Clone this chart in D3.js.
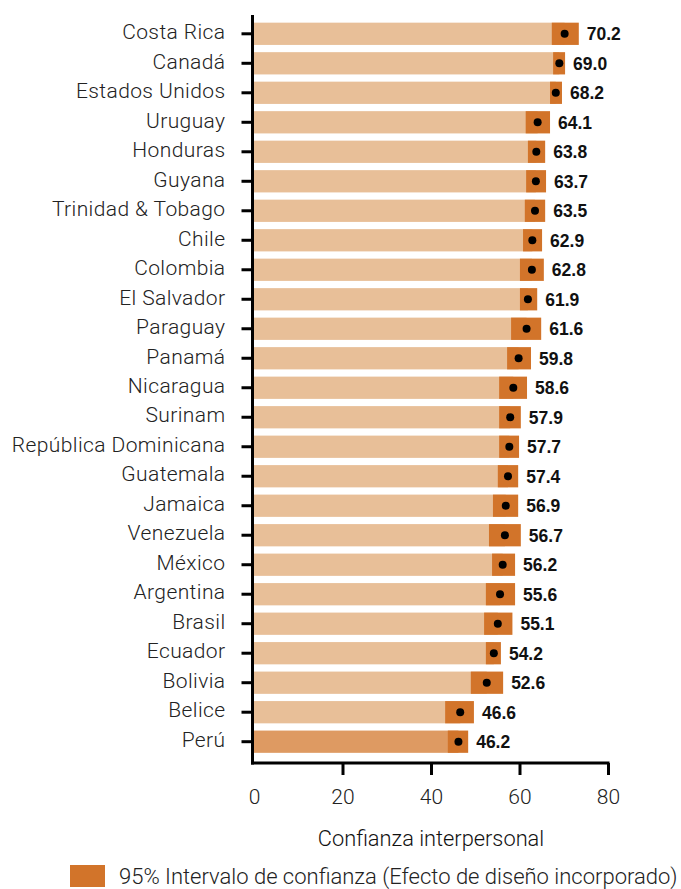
<!DOCTYPE html>
<html>
<head>
<meta charset="utf-8">
<script src="https://cdn.jsdelivr.net/npm/d3@7"></script>
<style>
  html, body { margin: 0; padding: 0; background: #fff; }
  svg { display: block; }
</style>
</head>
<body>
<svg id="chart" width="681" height="889"></svg>
<script>
// ---- data ----
const countries = ["Costa Rica","Canadá","Estados Unidos","Uruguay","Honduras","Guyana","Trinidad & Tobago","Chile","Colombia","El Salvador","Paraguay","Panamá","Nicaragua","Surinam","República Dominicana","Guatemala","Jamaica","Venezuela","México","Argentina","Brasil","Ecuador","Bolivia","Belice","Perú"];
const values    = [70.2,69.0,68.2,64.1,63.8,63.7,63.5,62.9,62.8,61.9,61.6,59.8,58.6,57.9,57.7,57.4,56.9,56.7,56.2,55.6,55.1,54.2,52.6,46.6,46.2];
const ciLow     = [67.3,67.6,66.9,61.4,61.9,61.5,61.2,60.8,60.1,60.1,58.1,57.2,55.4,55.4,55.4,55.1,54.0,53.1,53.8,52.4,52.0,52.4,49.0,43.2,43.8];
const ciHigh    = [73.4,70.3,69.6,66.9,65.8,66.0,65.8,65.1,65.5,64.0,64.9,62.6,61.7,60.3,59.9,59.7,59.7,60.3,59.0,59.0,58.4,55.8,56.3,49.7,48.4];
const highlight = ["Perú"];
const xTicks    = [0,20,40,60,80];
const axisTitle = "Confianza interpersonal";
const legendLabel = "95% Intervalo de confianza (Efecto de diseño incorporado)";

const rows = countries.map((c,i)=>({c, v: values[i], lo: ciLow[i], hi: ciHigh[i]}));

const svg = d3.select("#chart");
const lightFont = "Roboto, 'Liberation Sans', Arial, sans-serif";
const boldFont = "'Liberation Sans', Arial, sans-serif";

const x = d3.scaleLinear().domain([0,80]).range([254,608]);
const y = d3.scaleBand().domain(countries).range([19.05,756.45]).paddingInner(0.245).paddingOuter(0.1225);

const colBar = "#E8BF98", colHi = "#DE9A62", colCI = "#D2742A";

// bars
svg.append("g").selectAll("rect").data(rows).join("rect")
  .attr("x", x(0)).attr("y", d=>y(d.c))
  .attr("width", d=>x(d.v)-x(0)).attr("height", y.bandwidth())
  .attr("fill", d=>highlight.includes(d.c) ? colHi : colBar);

// CI boxes
svg.append("g").selectAll("rect").data(rows).join("rect")
  .attr("x", d=>x(d.lo)).attr("y", d=>y(d.c))
  .attr("width", d=>x(d.hi)-x(d.lo)).attr("height", y.bandwidth())
  .attr("fill", colCI);

// dots
svg.append("g").selectAll("circle").data(rows).join("circle")
  .attr("cx", d=>x(d.v)).attr("cy", d=>y(d.c)+y.bandwidth()/2)
  .attr("r", 4).attr("fill", "#000");

// value labels
svg.append("g").selectAll("text").data(rows).join("text")
  .attr("x", d=>x(d.hi)+8).attr("y", d=>y(d.c)+y.bandwidth()/2+6.5)
  .attr("font-family", boldFont).attr("font-weight", "bold").attr("font-size", 17.5)
  .attr("fill", "#111")
  .text(d=>d.v.toFixed(1));

// y axis
const yAxis = svg.append("g").attr("transform", "translate(252.5,0)")
  .call(d3.axisLeft(y).tickSize(11).tickPadding(16));
yAxis.select(".domain").remove();
yAxis.selectAll(".tick line").attr("stroke", "#000").attr("stroke-width", 3);
yAxis.selectAll(".tick text")
  .attr("font-family", lightFont).attr("font-weight", 300).attr("font-size", 21)
  .attr("letter-spacing", "0.4px")
  .attr("fill", "#222").attr("dy", "0.25em");

// x axis
const xAxis = svg.append("g").attr("transform", "translate(0,763)")
  .call(d3.axisBottom(x).tickValues(xTicks).tickSize(12).tickFormat(d3.format("d")));
xAxis.select(".domain").remove();
xAxis.selectAll(".tick line").attr("stroke", "#000").attr("stroke-width", 3)
  .filter(d=>d===0).remove();
xAxis.selectAll(".tick text")
  .attr("font-family", lightFont).attr("font-weight", 300).attr("font-size", 21)
  .attr("fill", "#222").attr("y", 41).attr("dy", 0);

// axis lines
svg.append("line").attr("x1", 252.5).attr("x2", 252.5).attr("y1", 15).attr("y2", 764.5)
  .attr("stroke", "#000").attr("stroke-width", 3);
svg.append("line").attr("x1", 251).attr("x2", x(80)+1.5).attr("y1", 763).attr("y2", 763)
  .attr("stroke", "#000").attr("stroke-width", 3);

// axis title
svg.append("text").attr("x", (x(0)+x(80))/2).attr("y", 846)
  .attr("text-anchor", "middle")
  .attr("font-family", lightFont).attr("font-weight", 300).attr("font-size", 21.8)
  .attr("fill", "#111").text(axisTitle);

// legend
svg.append("rect").attr("x", 70).attr("y", 865).attr("width", 35).attr("height", 22).attr("fill", colCI);
svg.append("text").attr("x", 119).attr("y", 884)
  .attr("font-family", lightFont).attr("font-weight", 300).attr("font-size", 22)
  .attr("fill", "#222").text(legendLabel);
</script>
</body>
</html>
